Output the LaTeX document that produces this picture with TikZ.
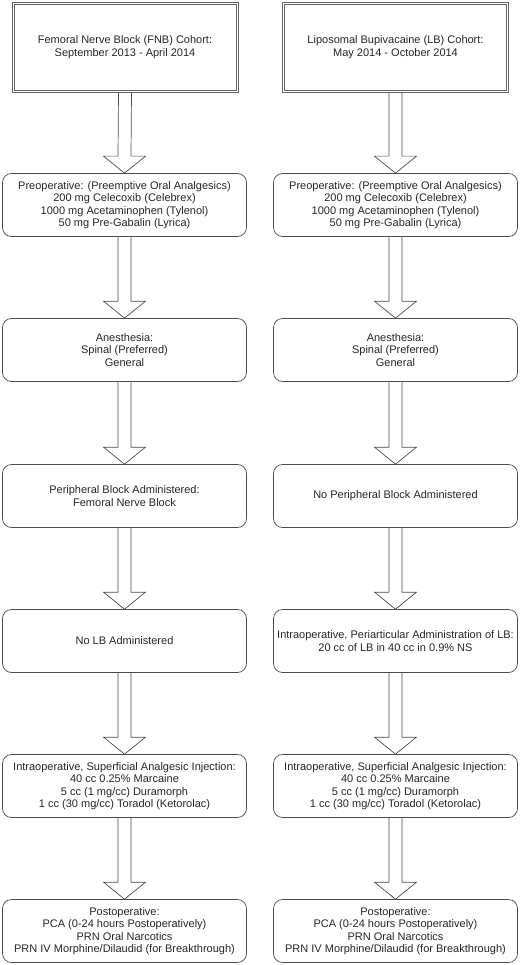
\documentclass[tikz,border=0pt]{standalone}
\usepackage{fontspec}
\setmainfont{Liberation Sans}
\usetikzlibrary{calc}
\usetikzlibrary{positioning}
\def\fatarrow(#1)(#2)% Syntax: (from node) (to node)
{ \draw[fatline] ($(#1.south)+(-6.5pt,0)$) -- ($(#2.north)+(-6.5pt,17pt)$) -- ($(#2.north)+(-21pt,17pt)$) -- (#2.north) -- ($(#2.north)+(21pt,17pt)$) -- ($(#2.north)+(6.5pt,17pt)$) -- ($(#1.south)+(6.5pt,0)$); }
\def\innerframe(#1)% Syntax: (node) -- second line of the double frame
{ \draw[frameline] ($(#1.north west)+(2.4pt,-2.4pt)$) rectangle ($(#1.south east)+(-2.4pt,2.4pt)$); }
\tikzset{
	frameline/.style={draw=black!60, line width=0.7pt},
	cohort/.style={frameline, minimum width=226pt, minimum height=90pt, align=center, text=black!85, font=\fontsize{11}{12.5}\selectfont},
	stage/.style={draw=black!70, rounded corners=9pt, line width=0.7pt, minimum width=244pt, minimum height=63pt, align=center, text=black!85, font=\fontsize{11}{12.5}\selectfont},
	fatline/.style={draw=black!70, line width=0.7pt, line join=miter},
}

\begin{document}
\begin{tikzpicture}[x=1pt,y=1pt]
		\useasboundingbox (0,0) rectangle (520,-965);
		% left column
		\node[cohort] (fnb) at (125,-47) {Femoral Nerve Block (FNB) Cohort:\\September 2013 - April 2014};
		\node[stage] (preL) at (124.5,-205) {Preoperative: (Preemptive Oral Analgesics)\\200 mg Celecoxib (Celebrex)\\1000 mg Acetaminophen (Tylenol)\\50 mg Pre-Gabalin (Lyrica)};
		\node[stage] (anesL) at (124.5,-350) {Anesthesia:\\Spinal (Preferred)\\General};
		\node[stage] (periL) at (124.5,-496) {Peripheral Block Administered:\\Femoral Nerve Block};
		\node[stage] (lbL) at (124.5,-641) {No LB Administered};
		\node[stage] (intraL) at (124.5,-786) {Intraoperative, Superficial Analgesic Injection:\\40 cc 0.25\% Marcaine\\5 cc (1 mg/cc) Duramorph\\1 cc (30 mg/cc) Toradol (Ketorolac)};
		\node[stage] (postL) at (124.5,-931) {Postoperative:\\PCA (0-24 hours Postoperatively)\\PRN Oral Narcotics\\PRN IV Morphine/Dilaudid (for Breakthrough)};
		% right column
		\node[cohort] (lb) at (395.5,-47) {Liposomal Bupivacaine (LB) Cohort:\\May 2014 - October 2014};
		\node[stage] (preR) at (395.5,-205) {Preoperative: (Preemptive Oral Analgesics)\\200 mg Celecoxib (Celebrex)\\1000 mg Acetaminophen (Tylenol)\\50 mg Pre-Gabalin (Lyrica)};
		\node[stage] (anesR) at (395.5,-350) {Anesthesia:\\Spinal (Preferred)\\General};
		\node[stage] (periR) at (395.5,-496) {No Peripheral Block Administered};
		\node[stage] (lbR) at (395.5,-641) {Intraoperative, Periarticular Administration of LB:\\20 cc of LB in 40 cc in 0.9\% NS};
		\node[stage] (intraR) at (395.5,-786) {Intraoperative, Superficial Analgesic Injection:\\40 cc 0.25\% Marcaine\\5 cc (1 mg/cc) Duramorph\\1 cc (30 mg/cc) Toradol (Ketorolac)};
		\node[stage] (postR) at (395.5,-931) {Postoperative:\\PCA (0-24 hours Postoperatively)\\PRN Oral Narcotics\\PRN IV Morphine/Dilaudid (for Breakthrough)};
		\innerframe(fnb)
		\innerframe(lb)
		% block arrows
		\fatarrow(fnb)(preL)
		\fatarrow(preL)(anesL)
		\fatarrow(anesL)(periL)
		\fatarrow(periL)(lbL)
		\fatarrow(lbL)(intraL)
		\fatarrow(intraL)(postL)
		\fatarrow(lb)(preR)
		\fatarrow(preR)(anesR)
		\fatarrow(anesR)(periR)
		\fatarrow(periR)(lbR)
		\fatarrow(lbR)(intraR)
		\fatarrow(intraR)(postR)
	\end{tikzpicture}
\end{document}
